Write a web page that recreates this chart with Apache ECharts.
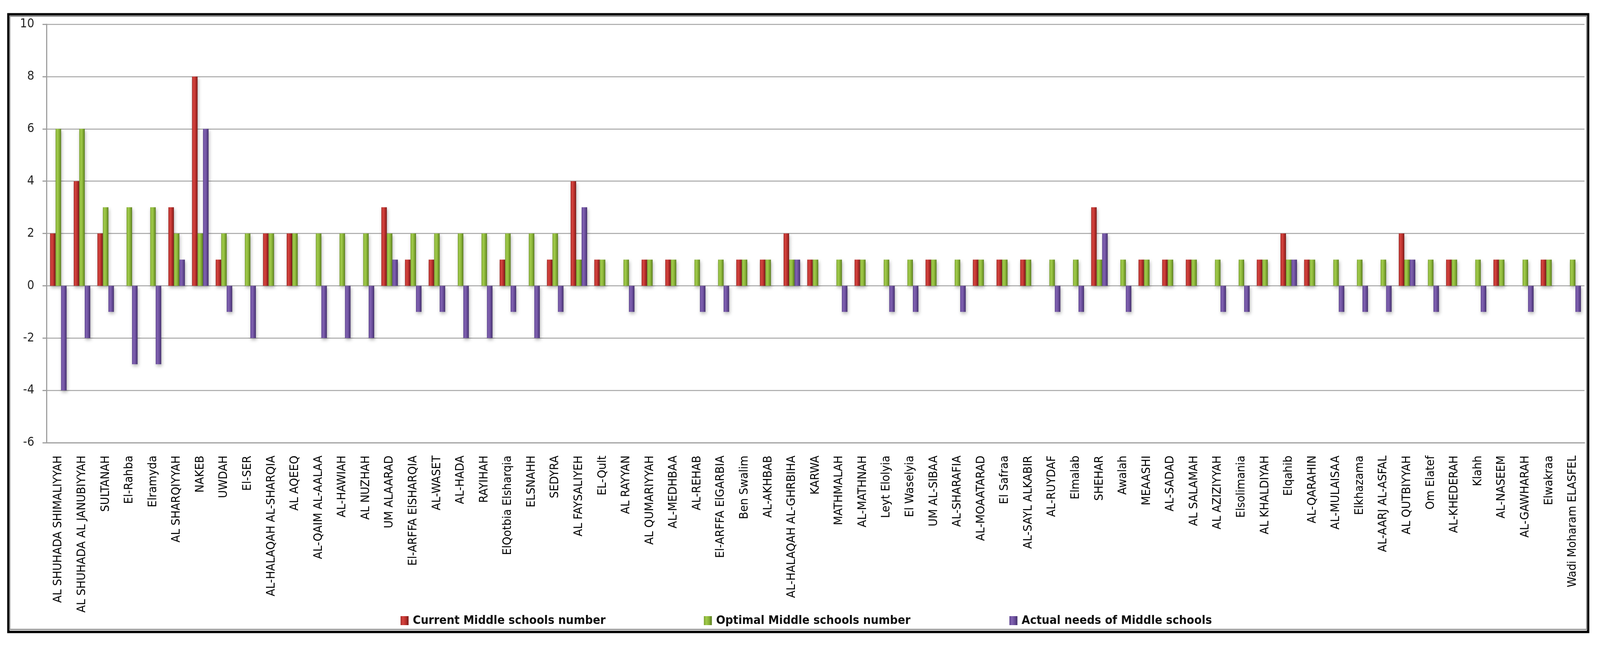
<!DOCTYPE html>
<html>
<head>
<meta charset="utf-8">
<script src="https://cdn.jsdelivr.net/npm/echarts@6/dist/echarts.min.js"></script>
<style>
  html, body { margin: 0; padding: 0; background: #ffffff; overflow: hidden; }
  #chart { width: 100vw; height: 100vh; }
</style>
</head>
<body>
<div id="chart"></div>
<script>
const categories = [
  "AL SHUHADA SHIMALIYYAH", "AL SHUHADA AL JANUBIYYAH", "SULTANAH", "El-Rahba", "Elramyda",
  "AL SHARQIYYAH", "NAKEB", "UWDAH", "El-SER", "AL-HALAQAH AL-SHARQIA",
  "AL AQEEQ", "AL-QAIM AL-AALAA", "AL-HAWIAH", "AL NUZHAH", "UM ALAARAD",
  "El-ARFFA ElSHARQIA", "AL-WASET", "AL-HADA", "RAYIHAH", "ElQotbia Elsharqia",
  "ELSNAHH", "SEDYRA", "AL FAYSALIYEH", "EL-Qult", "AL RAYYAN",
  "AL QUMARIYYAH", "AL-MEDHBAA", "AL-REHAB", "El-ARFFA ElGARBIA", "Ben Swalim",
  "AL-AKHBAB", "AL-HALAQAH AL-GHRBIHA", "KARWA", "MATHMALAH", "AL-MATHNAH",
  "Leyt Elolyia", "El Waselyia", "UM AL-SIBAA", "AL-SHARAFIA", "AL-MOAATARAD",
  "El Safraa", "AL-SAYL ALKABIR", "AL-RUYDAF", "Elmalab", "SHEHAR",
  "Awalah", "MEAASHI", "AL-SADAD", "AL SALAMAH", "AL AZIZIYYAH",
  "Elsolimania", "AL KHALDIYAH", "Elqahib", "AL-QARAHIN", "AL-MULAISAA",
  "Elkhazama", "AL-AARJ AL-ASFAL", "AL QUTBIYYAH", "Om Elatef", "AL-KHEDERAH",
  "Klahh", "AL-NASEEM", "AL-GAWHARAH", "Elwakraa", "Wadi Moharam ELASFEL"
];

const currentSchools = [
  2, 4, 2, 0, 0, 3, 8, 1, 0, 2,
  2, 0, 0, 0, 3, 1, 1, 0, 0, 1,
  0, 1, 4, 1, 0, 1, 1, 0, 0, 1,
  1, 2, 1, 0, 1, 0, 0, 1, 0, 1,
  1, 1, 0, 0, 3, 0, 1, 1, 1, 0,
  0, 1, 2, 1, 0, 0, 0, 2, 0, 1,
  0, 1, 0, 1, 0
];

const optimalSchools = [
  6, 6, 3, 3, 3, 2, 2, 2, 2, 2,
  2, 2, 2, 2, 2, 2, 2, 2, 2, 2,
  2, 2, 1, 1, 1, 1, 1, 1, 1, 1,
  1, 1, 1, 1, 1, 1, 1, 1, 1, 1,
  1, 1, 1, 1, 1, 1, 1, 1, 1, 1,
  1, 1, 1, 1, 1, 1, 1, 1, 1, 1,
  1, 1, 1, 1, 1
];

const actualNeeds = [
  -4, -2, -1, -3, -3, 1, 6, -1, -2, 0,
  0, -2, -2, -2, 1, -1, -1, -2, -2, -1,
  -2, -1, 3, 0, -1, 0, 0, -1, -1, 0,
  0, 1, 0, -1, 0, -1, -1, 0, -1, 0,
  0, 0, -1, -1, 2, -1, 0, 0, 0, -1,
  -1, 0, 1, 0, -1, -1, -1, 1, -1, 0,
  -1, 0, -1, 0, -1
];

const seriesNames = [
  "Current Middle schools number",
  "Optimal Middle schools number",
  "Actual needs of Middle schools"
];

const yMin = -6;
const yMax = 10;
const yInterval = 2;

const chart = echarts.init(document.getElementById('chart'), null, { renderer: 'canvas' });
const W = chart.getWidth();
const H = chart.getHeight();
const sx = W / 6399;
const sy = H / 1656;

function cylinder(stops) {
  return new echarts.graphic.LinearGradient(0, 0, 1, 0, [
    { offset: 0, color: stops[0] },
    { offset: 0.3, color: stops[1] },
    { offset: 0.65, color: stops[2] },
    { offset: 1, color: stops[3] }
  ]);
}

const redFill = cylinder(['#a32926', '#d6443f', '#b9302c', '#781a18']);
const greenFill = cylinder(['#7aa12f', '#a2cc4c', '#88b236', '#587a1f']);
const purpleFill = cylinder(['#5c4290', '#8263b2', '#6a4e9b', '#432f6a']);

const shadow = {
  shadowColor: 'rgba(0,0,0,0.28)',
  shadowBlur: 8,
  shadowOffsetX: 2,
  shadowOffsetY: 5
};

function makeSeries(name, data, fill) {
  return {
    name: name,
    type: 'bar',
    data: data,
    barWidth: 22 * sx,
    barGap: '0%',
    itemStyle: Object.assign({ color: fill }, shadow),
    emphasis: { disabled: true }
  };
}

const legendText = {
  fontFamily: 'DejaVu Sans Condensed, DejaVu Sans',
  fontWeight: 'bold',
  fontSize: 31,
  color: '#111',
  padding: [0, 0, 0, 9 * sx]
};

function makeLegend(name, left) {
  return {
    data: [name],
    left: left * sx,
    top: 1573 * sy,
    padding: 0,
    itemWidth: 32 * sx,
    itemHeight: 23 * sy,
    icon: 'rect',
    textStyle: legendText,
    selectedMode: false
  };
}

const option = {
  backgroundColor: '#ffffff',
  animation: false,
  graphic: [
    {
      type: 'rect',
      shape: { x: 33.5 * sx, y: 36.5 * sy, width: 6318 * sx, height: 1581 * sy },
      style: { fill: 'none', stroke: '#000000', lineWidth: 6 },
      z: 0
    },
    {
      type: 'rect',
      shape: { x: 39 * sx, y: 41.5 * sy, width: 6307 * sx, height: 1569.5 * sy },
      style: { fill: 'none', stroke: '#8c8c8c', lineWidth: 3 },
      z: 0
    }
  ],
  legend: [
    makeLegend(seriesNames[0], 1602),
    makeLegend(seriesNames[1], 2815),
    makeLegend(seriesNames[2], 4037)
  ],
  grid: {
    left: 186 * sx,
    right: 62 * sx,
    top: 62 * sy,
    bottom: 523 * sy,
    containLabel: false
  },
  xAxis: {
    type: 'category',
    data: categories,
    axisLine: { show: true, onZero: false, lineStyle: { color: '#a0a0a0', width: 3 } },
    axisTick: { show: false },
    splitLine: { show: false },
    axisLabel: {
      interval: 0,
      rotate: 90,
      margin: 33 * sy,
      fontFamily: 'DejaVu Sans Condensed, DejaVu Sans',
      fontSize: 31,
      color: '#000000'
    }
  },
  yAxis: {
    type: 'value',
    min: yMin,
    max: yMax,
    interval: yInterval,
    axisLine: { show: true, lineStyle: { color: '#a0a0a0', width: 3 } },
    axisTick: { show: true, length: 16 * sx, lineStyle: { color: '#a0a0a0', width: 3 } },
    splitLine: { show: true, lineStyle: { color: '#a6a6a6', width: 2.5 } },
    axisLabel: {
      margin: 49 * sx,
      fontFamily: 'DejaVu Sans Condensed, DejaVu Sans',
      fontSize: 32,
      color: '#262626'
    }
  },
  series: [
    makeSeries(seriesNames[0], currentSchools, redFill),
    makeSeries(seriesNames[1], optimalSchools, greenFill),
    makeSeries(seriesNames[2], actualNeeds, purpleFill)
  ]
};

chart.setOption(option);
</script>
</body>
</html>
